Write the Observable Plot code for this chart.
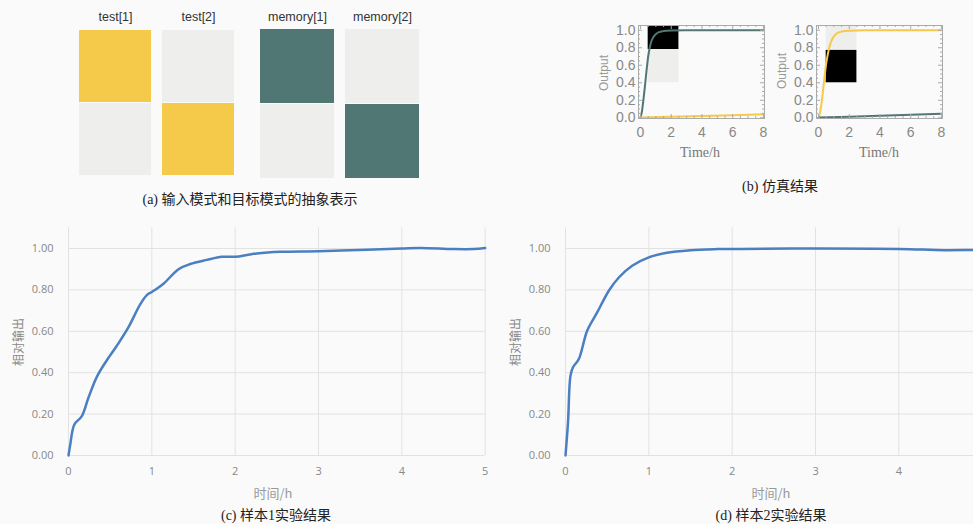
<!DOCTYPE html>
<html><head><meta charset="utf-8">
<script src="https://cdn.jsdelivr.net/npm/d3@7"></script>
<script src="https://cdn.jsdelivr.net/npm/@observablehq/plot@0.6"></script>
<style>
html,body{margin:0;padding:0;background:#fafafa;}
#fig{position:relative;width:973px;height:524px;overflow:hidden;background:#fafafa;}
#fig svg{position:absolute;}
.t{position:absolute;transform:translate(-50%,-50%);white-space:nowrap;line-height:1;}
.cap{font-family:"Liberation Serif","Noto Sans CJK SC",serif;font-size:14px;color:#222;}
.ylab{font-family:"Noto Sans CJK SC",sans-serif;font-size:12px;color:#888;transform:translate(-50%,-50%) rotate(-90deg);}
.xlab{font-family:"Noto Sans CJK SC",sans-serif;font-size:13px;color:#999;}
.outlab{font-family:"Liberation Sans",Arial,sans-serif;font-size:12px;color:#999;transform:translate(-50%,-50%) rotate(-90deg);}
.timelab{font-family:"Liberation Serif",serif;font-size:14px;color:#777;}
</style></head>
<body>
<div id="fig"></div>
<script>
// ---------- data ----------
const gray = "#eeeeec", yellow = "#f5c94a", teal = "#517774", blue = "#4a7fc1";
const testPatterns = ["test[1]", "test[2]"];
const memoryPatterns = ["memory[1]", "memory[2]"];
const cellRows = ["top", "bottom"];
const testActive = [[1, 0], [0, 1]];     // [pattern][row]
const memoryActive = [[1, 0], [0, 1]];

// simulation (b)
const simTime = [0, 0.1, 0.2, 0.3, 0.4, 0.5, 0.6, 0.7, 0.8, 1.0, 1.2, 1.5, 2, 3, 4, 5, 6, 7, 8];
const simRise1 = [0, 0.08, 0.22, 0.38, 0.55, 0.70, 0.80, 0.87, 0.91, 0.955, 0.978, 0.99, 0.997, 1, 1, 1, 1, 1, 1];
const simRise2 = [0, 0.06, 0.17, 0.32, 0.48, 0.62, 0.72, 0.80, 0.86, 0.93, 0.965, 0.985, 0.995, 1, 1, 1, 1, 1, 1];
const simSlowTime = [0, 2, 4, 6, 8];
const simSlow1 = [0.002, 0.011, 0.02, 0.03, 0.04];
const simSlow2 = [0.002, 0.012, 0.023, 0.034, 0.045];
const simXTicks = [0, 2, 4, 6, 8];
const simYTicks = [0, 0.2, 0.4, 0.6, 0.8, 1.0];
const simXMinor = [0.5, 1, 1.5, 2.5, 3, 3.5, 4.5, 5, 5.5, 6.5, 7, 7.5];
const simYMinor = [0.05, 0.1, 0.15, 0.25, 0.3, 0.35, 0.45, 0.5, 0.55, 0.65, 0.7, 0.75, 0.85, 0.9, 0.95];
const patches1 = [{x1: 0.5, x2: 2.5, y1: 0.4, y2: 0.78, fill: gray}, {x1: 0.5, x2: 2.5, y1: 0.78, y2: 1.054, fill: "black"}];
const patches2 = [{x1: 0.5, x2: 2.5, y1: 0.78, y2: 1.054, fill: gray}, {x1: 0.5, x2: 2.5, y1: 0.4, y2: 0.77, fill: "black"}];

// experiments (c), (d)
const sample1T = [0, 0.02, 0.07, 0.16, 0.24, 0.34, 0.46, 0.58, 0.72, 0.86, 0.94, 1.0, 1.14, 1.32, 1.46, 1.66, 1.84, 2.0, 2.16, 2.26, 2.54, 3.0, 3.58, 4.0, 4.22, 4.62, 4.86, 5.0];
const sample1V = [0, 0.05, 0.15, 0.19, 0.28, 0.38, 0.46, 0.53, 0.62, 0.73, 0.775, 0.79, 0.83, 0.90, 0.925, 0.945, 0.96, 0.96, 0.97, 0.976, 0.984, 0.987, 0.994, 1.0, 1.003, 0.997, 0.997, 1.002];
const sample2T = [0, 0.03, 0.06, 0.09, 0.16, 0.26, 0.38, 0.52, 0.64, 0.8, 1.0, 1.2, 1.5, 1.82, 2.1, 3.0, 4.0, 4.54, 4.9, 5.0];
const sample2V = [0, 0.16, 0.386, 0.426, 0.466, 0.603, 0.691, 0.796, 0.86, 0.917, 0.957, 0.978, 0.992, 0.997, 0.998, 1.0, 0.998, 0.992, 0.993, 0.993];
const expXTicks = [0, 1, 2, 3, 4, 5];
const expYTicks = [0, 0.2, 0.4, 0.6, 0.8, 1.0];

// ---------- helpers ----------
const fig = document.getElementById("fig");
function place(node, left, top) { node.style.left = left + "px"; node.style.top = top + "px"; fig.appendChild(node); }
function text(str, cls, x, y) { const d = document.createElement("div"); d.className = "t " + cls; d.textContent = str; d.style.left = x + "px"; d.style.top = y + "px"; fig.appendChild(d); }

// ---------- (a) ----------
function cellPlot(patterns, active, colour, o) {
  const cells = [];
  patterns.forEach((p, i) => cellRows.forEach((r, j) => cells.push({pattern: p, row: r, fill: active[i][j] ? colour : gray})));
  return Plot.plot({
    width: o.width, height: o.height, marginLeft: o.ml, marginRight: 5, marginTop: 29, marginBottom: 4,
    x: {domain: patterns, paddingInner: 0.13, paddingOuter: 0, axis: null},
    y: {domain: cellRows, paddingInner: 0.012, paddingOuter: 0, axis: null},
    color: {type: "identity"},
    style: {background: "transparent", fontFamily: "Liberation Sans, Arial, sans-serif", fontSize: "12.5px", color: "#333"},
    marks: [
      Plot.cell(cells, {x: "pattern", y: "row", fill: "fill", inset: 0}),
      Plot.axisX({anchor: "top", tickSize: 0, tickPadding: 9, label: null})
    ]
  });
}
place(cellPlot(testPatterns, testActive, yellow, {width: 240, height: 180, ml: 79}), 0, 0);
place(cellPlot(memoryPatterns, memoryActive, teal, {width: 174, height: 183, ml: 10}), 250, 0);
text("(a) 输入模式和目标模式的抽象表示", "cap", 250, 200);

// ---------- (b) ----------
function simPlot(rise, riseColour, slow, slowColour, patches) {
  const riseData = simTime.map((t, i) => ({t, v: rise[i]}));
  const slowData = simSlowTime.map((t, i) => ({t, v: slow[i]}));
  const fw = 126, fh = 93, tc = "#aaa";
  return Plot.plot({
    width: 198, height: 148, marginLeft: 58, marginRight: 14, marginTop: 25, marginBottom: 30,
    x: {domain: [-0.13, 8.07]}, y: {domain: [-0.008, 1.054]},
    color: {type: "identity"},
    style: {background: "transparent", fontFamily: "Liberation Sans, Arial, sans-serif", fontSize: "14px", color: "#888"},
    marks: [
      Plot.rect(patches, {x1: "x1", x2: "x2", y1: "y1", y2: "y2", fill: "fill"}),
      Plot.line(riseData, {x: "t", y: "v", stroke: riseColour, strokeWidth: 2, curve: "monotone-x"}),
      Plot.line(slowData, {x: "t", y: "v", stroke: slowColour, strokeWidth: 2}),
      Plot.tickX(simXTicks, {x: d => d, insetTop: fh - 4, stroke: tc}),
      Plot.tickX(simXTicks, {x: d => d, insetBottom: fh - 4, stroke: tc}),
      Plot.tickX(simXMinor, {x: d => d, insetTop: fh - 2, stroke: tc}),
      Plot.tickX(simXMinor, {x: d => d, insetBottom: fh - 2, stroke: tc}),
      Plot.tickY(simYTicks, {y: d => d, insetRight: fw - 4, stroke: tc}),
      Plot.tickY(simYTicks, {y: d => d, insetLeft: fw - 4, stroke: tc}),
      Plot.tickY(simYMinor, {y: d => d, insetRight: fw - 2, stroke: tc}),
      Plot.tickY(simYMinor, {y: d => d, insetLeft: fw - 2, stroke: tc}),
      Plot.frame({stroke: tc}),
      Plot.axisX(simXTicks, {anchor: "bottom", tickSize: 0, tickPadding: 9, label: null}),
      Plot.axisY(simYTicks, {anchor: "left", tickSize: 0, tickPadding: 3, tickFormat: d3.format(".1f"), label: null})
    ]
  });
}
place(simPlot(simRise1, teal, simSlow1, yellow, patches1), 580, 0);
place(simPlot(simRise2, yellow, simSlow2, teal, patches2), 757.7, 0);
text("Output", "outlab", 604, 73);
text("Output", "outlab", 782, 71);
text("Time/h", "timelab", 700, 153);
text("Time/h", "timelab", 879, 153);
text("(b) 仿真结果", "cap", 780, 187);

// ---------- (c), (d) ----------
function expPlot(T, V, o) {
  const data = T.map((t, i) => ({t, v: V[i]}));
  return Plot.plot({
    width: o.width, height: 270, marginLeft: o.ml, marginRight: o.mr, marginTop: 12.3, marginBottom: 30,
    x: {domain: [0, 5]}, y: {domain: [0, 1.1]},
    style: {background: "transparent", fontFamily: "Open Sans, Liberation Sans, sans-serif", fontSize: "11px", color: "#888"},
    marks: [
      Plot.gridX(expXTicks, {stroke: "#e2e2e2", strokeOpacity: 1}),
      Plot.gridY(expYTicks, {stroke: "#e2e2e2", strokeOpacity: 1}),
      Plot.axisX(expXTicks.filter(o.xVisible), {anchor: "bottom", tickSize: 0, tickPadding: 12, label: null}),
      Plot.axisY(expYTicks, {anchor: "left", tickSize: 0, tickPadding: 15, tickFormat: d3.format(".2f"), label: null}),
      Plot.line(data, {x: "t", y: "v", stroke: blue, strokeWidth: 2.5, curve: "catmull-rom"})
    ]
  });
}
place(expPlot(sample1T, sample1V, {width: 490, ml: 68, mr: 5.3, xVisible: () => true}), 0, 215);
place(expPlot(sample2T, sample2V, {width: 500, ml: 75, mr: 8.3, xVisible: d => d < 5}), 490, 215);
text("相对输出", "ylab", 18, 342);
text("相对输出", "ylab", 515, 342);
text("时间/h", "xlab", 273, 492);
text("时间/h", "xlab", 771, 492);
text("(c) 样本1实验结果", "cap", 276, 516);
text("(d) 样本2实验结果", "cap", 771, 516);
</script>
</body></html>
